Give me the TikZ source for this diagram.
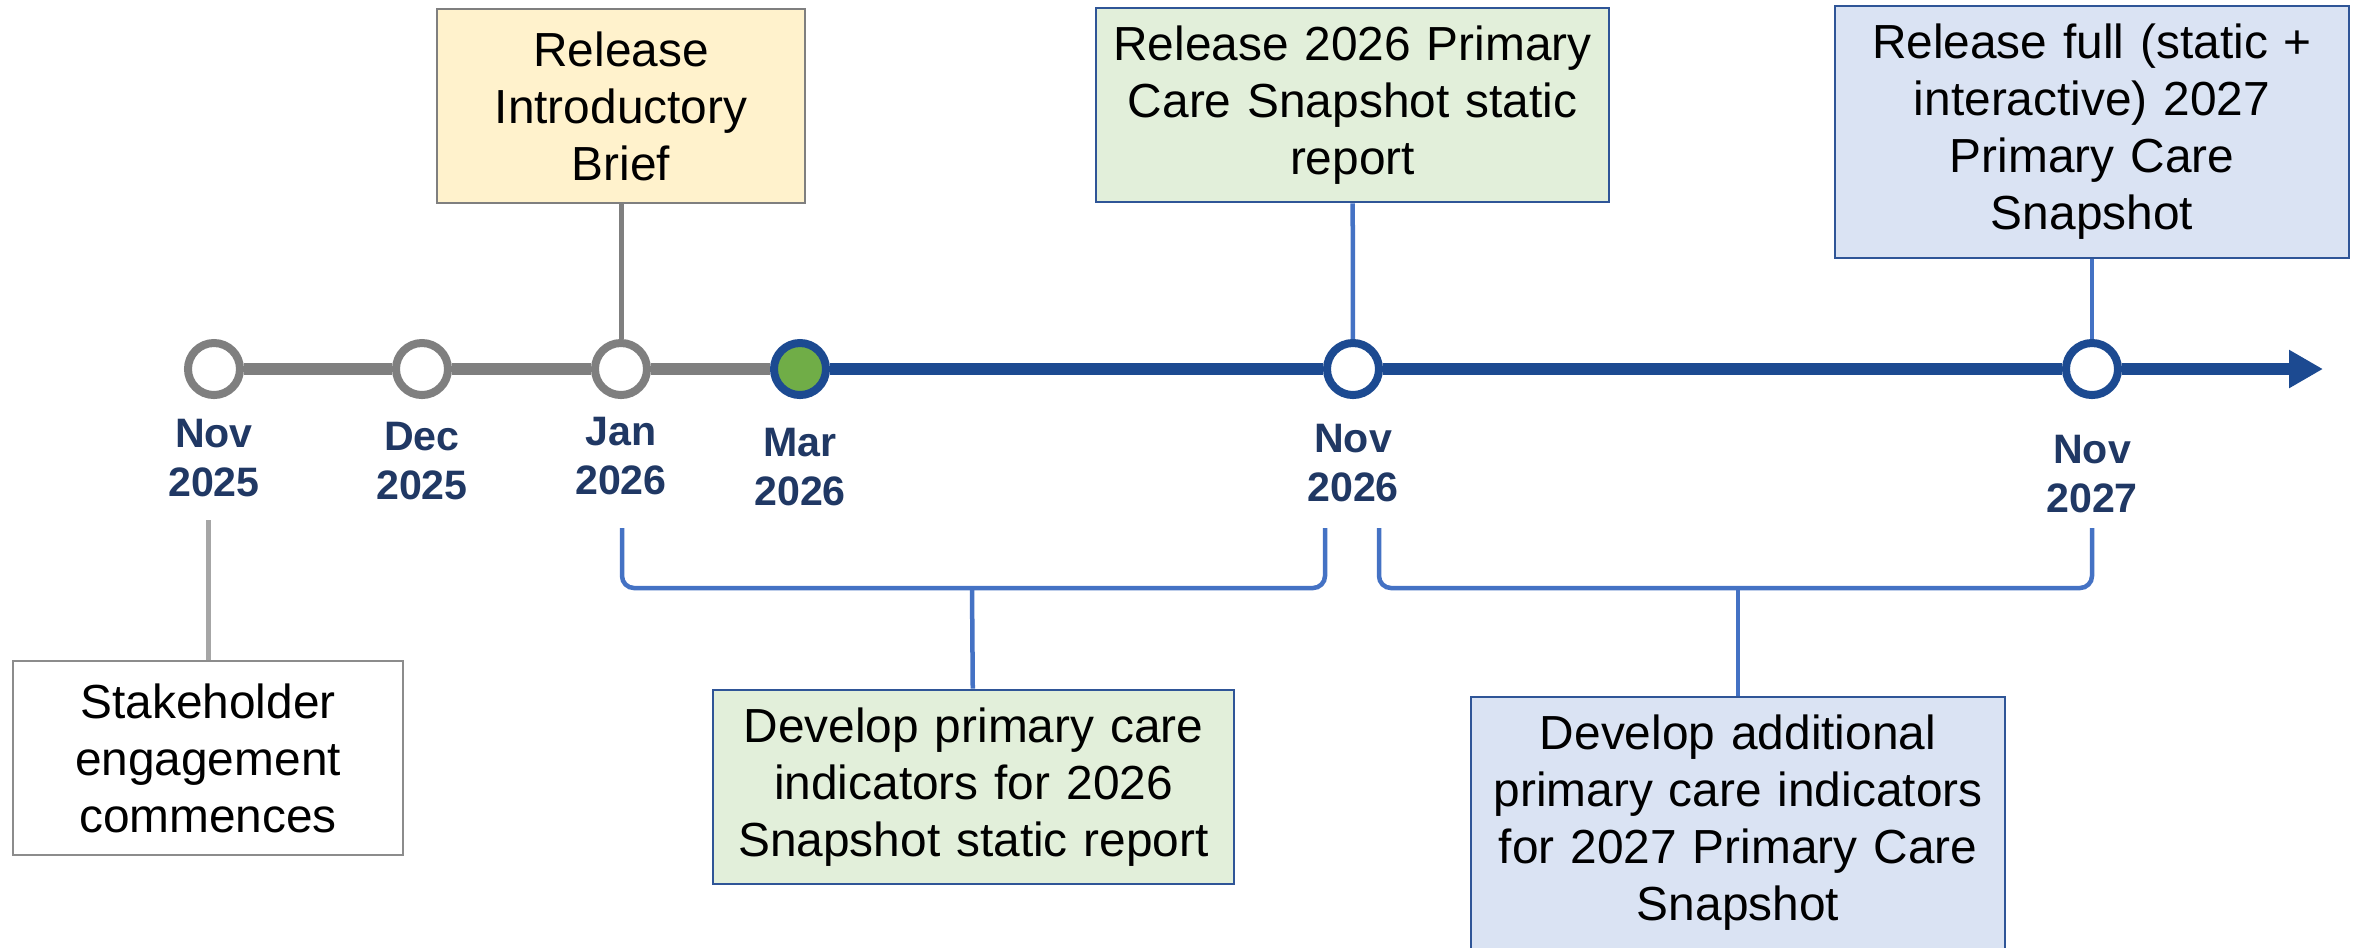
\documentclass[tikz,border=0pt]{standalone}
\usepackage{fontspec}
\setmainfont{Liberation Sans}
\usetikzlibrary{arrows.meta}

\definecolor{lineGray}{HTML}{7F7F7F}
\definecolor{stemGray}{HTML}{A6A6A6}
\definecolor{boxGray}{HTML}{8C8C8C}
\definecolor{lineBlue}{RGB}{28,74,145}
\definecolor{bracketBlue}{HTML}{4472C4}
\definecolor{boxBlue}{HTML}{2F5597}
\definecolor{dateNavy}{HTML}{203864}
\definecolor{dotGreen}{HTML}{70AD47}
\definecolor{introFill}{HTML}{FFF2CC}
\definecolor{greenFill}{HTML}{E2EFDA}
\definecolor{blueFill}{HTML}{DAE3F3}

\begin{document}
\begin{tikzpicture}
[x=0.01cm,y=-0.01cm,%
  grayDot/.style={circle,draw=lineGray,fill=white,line width=0.08cm,minimum size=0.52cm,inner sep=0pt},%
  blueDot/.style={grayDot,draw=lineBlue},%
  greenDot/.style={blueDot,fill=dotGreen},%
  dateLabel/.style={align=center,text=dateNavy,font=\fontsize{11.7pt}{14.2pt}\selectfont\bfseries,inner xsep=0pt,inner ysep=0.22cm},%
  eventBox/.style={line width=0.025cm,inner sep=0pt,align=center,font=\fontsize{13.6pt}{16.2pt}\selectfont},%
  grayLine/.style={draw=lineGray,line width=0.12cm},%
  blueLine/.style={draw=lineBlue,line width=0.12cm},%
  blueArrow/.style={blueLine,-{Triangle[length=0.34cm,width=0.36cm]}},%
  grayStem/.style={draw=lineGray,line width=0.05cm},%
  lightStem/.style={draw=stemGray,line width=0.05cm},%
  blueStem/.style={draw=bracketBlue,line width=0.045cm},%
  bracket/.style={blueStem,rounded corners=0.12cm}]
\useasboundingbox (0,0) rectangle (2364,947);
%% milestones on the time line
\foreach \nodename/\x/\style in {nova/214/grayDot, dec/422/grayDot, jan/621/grayDot,
  mar/800/greenDot, novb/1353/blueDot, novc/2092/blueDot}
{
  \node (\nodename) at (\x,369) [\style] {};
}
\coordinate (tip) at (2323,369);
%% dates below the milestones
\foreach \nodename/\x/\y/\mon/\yr in {nova/214/458/Nov/2025, dec/422/461/Dec/2025,
  jan/621/456/Jan/2026, mar/800/467/Mar/2026, novb/1353/463/Nov/2026, novc/2092/474/Nov/2027}
{
  \node (lbl\nodename) at (\x,\y) [dateLabel] {\mon\\\yr};
}
%% events
\node (intro) at (621,106) [eventBox,draw=lineGray,fill=introFill,text width=3.68cm,minimum height=1.94cm]
  {Release\\Introductory\\Brief};
\node (snapA) at (1352.5,105) [eventBox,draw=boxBlue,fill=greenFill,text width=5.13cm,minimum height=1.94cm]
  {Release 2026 Primary\\Care Snapshot static\\report};
\node (snapB) at (2092,132) [eventBox,draw=boxBlue,fill=blueFill,text width=5.14cm,minimum height=2.52cm]
  {Release full (static +\\interactive) 2027\\Primary Care\\Snapshot};
\node (stake) at (208,758) [eventBox,draw=boxGray,fill=white,text width=3.9cm,minimum height=1.94cm]
  {Stakeholder\\engagement\\commences};
\node (devA) at (973.5,787) [eventBox,draw=boxBlue,fill=greenFill,text width=5.21cm,minimum height=1.94cm]
  {Develop primary care\\indicators for 2026\\Snapshot static report};
\node (devB) at (1738,823) [eventBox,draw=boxBlue,fill=blueFill,text width=5.34cm,minimum height=2.52cm]
  {Develop additional\\primary care indicators\\for 2027 Primary Care\\Snapshot};
%% bracket corners
\coordinate (brAleft) at (622,528);
\coordinate (brAmid) at (972,588);
\coordinate (brAright) at (1325,528);
\coordinate (brBleft) at (1379,528);
\coordinate (brBmid) at (1738,588);
\coordinate (brBright) at (2092,528);
%% time line
\path
\foreach \startnode/\endnode in {nova/dec, dec/jan, jan/mar}
{
  (\startnode) edge[grayLine] (\endnode)
}
\foreach \startnode/\endnode in {mar/novb, novb/novc}
{
  (\startnode) edge[blueLine] (\endnode)
}
(novc) edge[blueArrow] (tip);
%% stems
\draw[grayStem] (intro) -- (jan);
\draw[blueStem] (snapA) -- (novb);
\draw[blueStem] (snapB) -- (novc);
\draw[lightStem] (lblnova.south -| stake.north) -- (stake);
%% brackets
\draw[bracket] (brAleft) |- (brAmid) -| (brAright);
\draw[bracket] (brBleft) |- (brBmid) -| (brBright);
\draw[blueStem] (brAmid) -- (devA);
\draw[blueStem] (brBmid) -- (devB);
\end{tikzpicture}
\end{document}
